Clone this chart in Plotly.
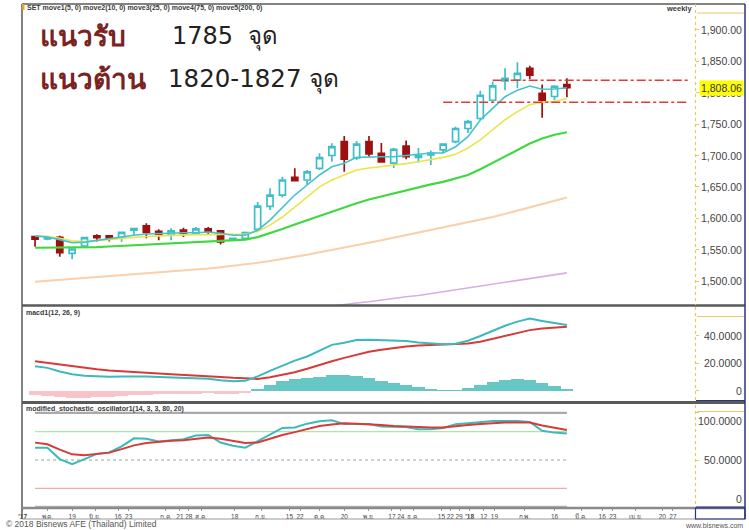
import plotly.graph_objects as go

# ---------------- data ----------------
dates = ["2017-04-28", "2017-05-05", "2017-05-12", "2017-05-19", "2017-05-26", "2017-06-02",
         "2017-06-09", "2017-06-16", "2017-06-23", "2017-06-30", "2017-07-07", "2017-07-14",
         "2017-07-21", "2017-07-28", "2017-08-04", "2017-08-11", "2017-08-18", "2017-08-25",
         "2017-09-01", "2017-09-08", "2017-09-15", "2017-09-22", "2017-09-29", "2017-10-06",
         "2017-10-13", "2017-10-20", "2017-10-27", "2017-11-03", "2017-11-10", "2017-11-17",
         "2017-11-24", "2017-12-01", "2017-12-08", "2017-12-15", "2017-12-22", "2017-12-29",
         "2018-01-05", "2018-01-12", "2018-01-19", "2018-01-26", "2018-02-02", "2018-02-09",
         "2018-02-16", "2018-02-23"]

open_ = [1570.6, 1567, 1569.6, 1544, 1555.8, 1572, 1572, 1569, 1581, 1588, 1579, 1573, 1581, 1576,
         1583, 1580, 1566, 1568, 1582.4, 1619, 1637, 1665, 1661, 1679.6, 1700, 1722, 1696, 1722,
         1703.5, 1688, 1715, 1697, 1701, 1709, 1722, 1743, 1759, 1788, 1819, 1820, 1839, 1799,
         1794, 1813]
high = [1571.5, 1572, 1572, 1552, 1570, 1574.4, 1573, 1578, 1584, 1592, 1582.5, 1584, 1585, 1586,
        1586, 1581.5, 1569, 1579, 1626, 1648, 1666, 1679.6, 1677, 1703.5, 1719.5, 1731, 1723, 1731,
        1720, 1712, 1724, 1712, 1708, 1719.5, 1746, 1756.7, 1803, 1818, 1839, 1848.5, 1843, 1813,
        1812, 1823]
low = [1554.7, 1565, 1538.8, 1534.6, 1553, 1562.6, 1563, 1562.6, 1573, 1568, 1565, 1565, 1570, 1574,
       1574, 1558, 1565, 1566, 1580, 1613, 1633, 1659, 1653, 1677, 1690, 1674, 1693, 1698,
       1689, 1680, 1694, 1689, 1685, 1703.5, 1719.5, 1736, 1757, 1786, 1804, 1807, 1822, 1760,
       1788, 1793]
close = [1566.9, 1569, 1545.1, 1551, 1569, 1569, 1568, 1577.6, 1583.5, 1577.6, 1574.5, 1580, 1576, 1583,
         1579, 1562.5, 1568, 1577, 1619.5, 1637, 1661, 1660, 1674, 1696.5, 1714, 1694, 1718, 1702.5,
         1690, 1710, 1698, 1700, 1704, 1718, 1743, 1754, 1796, 1811, 1823, 1831, 1828, 1788,
         1810, 1808.06]

move1 = [1572, 1570, 1566, 1561, 1562, 1565, 1567, 1570, 1573, 1575, 1576, 1577, 1577, 1577, 1578,
         1576, 1573, 1573, 1581, 1597, 1617.5, 1637, 1653, 1669, 1682, 1687.6, 1697, 1698, 1698, 1698,
         1700, 1703, 1704, 1704, 1714, 1730, 1756.6, 1775, 1793.7, 1804, 1810.8, 1805.5, 1806, 1808]
move2 = [1572, 1571, 1568, 1564, 1563, 1564, 1566, 1568, 1570, 1571, 1572, 1573, 1573, 1574, 1574,
         1574, 1574, 1575, 1579, 1589, 1602, 1618, 1634, 1650, 1661, 1669, 1677, 1680, 1682, 1685,
         1687, 1690, 1693, 1697, 1702, 1712, 1725, 1741, 1757, 1770, 1781, 1785, 1786, 1791]
move3 = [1553, 1553, 1553, 1553, 1554, 1554, 1555, 1556, 1557, 1558, 1559, 1560, 1561, 1562, 1563,
         1564, 1565, 1566, 1570, 1576, 1583, 1590, 1597, 1604, 1611, 1618, 1624, 1630, 1635, 1640,
         1645, 1649, 1654, 1658, 1663, 1669, 1678, 1688, 1699, 1709, 1719, 1727, 1733, 1737]
move4 = [1499, 1500.5, 1502, 1503.5, 1505, 1506.5, 1508, 1509, 1510, 1511.5, 1513, 1514.5, 1516, 1518,
         1520, 1522, 1524, 1526, 1529, 1532, 1535, 1538.5, 1542, 1546, 1549.5, 1553, 1557, 1561,
         1565, 1569, 1573, 1577, 1581, 1585, 1589, 1593, 1597.5, 1602, 1607, 1612, 1617, 1622,
         1627.5, 1633]
move5 = [None] * 20 + [1450, 1452, 1455, 1457, 1460, 1463, 1465, 1467, 1470, 1472, 1475, 1477, 1480,
                       1482, 1485, 1488, 1491, 1494, 1497, 1500, 1503, 1506, 1509, 1513]

macd = [17.9, 16.7, 14, 12, 11, 10.4, 10.2, 10.3, 10.5, 10.4, 10, 9.8, 9.6, 9.3, 8.8, 7.6, 7.0, 7.2,
        10.5, 14.5, 18.5, 22, 25, 29, 33.5, 35, 37, 37.3, 37, 36.8, 36.3, 35.3, 34.4, 34, 34.3,
        36.5, 40, 44, 47.5, 50.5, 52.7, 51, 49.5, 48]
signal = [21.5, 20.3, 19, 17.8, 16.6, 15.6, 14.8, 14.1, 13.4, 13, 12.5, 12, 11.6, 11.2, 10.7, 10.1,
          9.4, 8.8, 8.6, 9.8, 11.5, 13.5, 16, 19, 21.5, 24, 26.5, 28.5, 30, 31.3, 32.3, 33, 33.5,
          33.8, 34, 34.5, 35.8, 37.8, 40, 42.3, 44.3, 45.5, 46.3, 46.8]
hist = [-3, -3.8, -4.6, -5, -5, -4.8, -4.3, -3.8, -3.3, -3, -2.7, -2.5, -2.3, -2.1, -2, -2.2, -2.4,
        -1.8, 1.5, 4.5, 7, 8.5, 9.3, 10.2, 11.5, 11.2, 10.5, 9, 7, 5.5, 4, 2.5, 1.2, 0.3, 0.3, 2.0,
        4.5, 6.5, 7.6, 8.2, 8.0, 5.5, 3.2, 1.2]

stoch_k = [63, 63, 51, 45.5, 51, 56.5, 58, 64.5, 73, 72.5, 69.5, 71, 72, 76, 76.5, 68.5, 65, 63, 70,
           77, 84, 84.5, 88.5, 91, 92, 88, 88, 88, 85.5, 85.3, 85, 82.5, 82.5, 84, 87.8, 88.9, 90,
           91.3, 91.3, 91.3, 90.3, 81, 79, 78]
stoch_d = [68.4, 66.6, 61, 56, 55, 56, 57.8, 61.5, 65.5, 68, 69.4, 70.5, 71, 72.5, 73.7, 72.5, 70, 68,
           68.5, 72.5, 76.5, 79.5, 83, 86, 87.5, 88.9, 88.5, 88, 87, 86, 85.3, 84.5, 84.3, 84.5, 86,
           87, 88, 89, 89.6, 89.6, 89.6, 86.5, 84, 81.8]
stoch_levels = [100, 80, 50, 20, 0]

support_level = 1785
resist_level = 1820
support_start = "2017-12-15"
resist_start = "2018-01-12"
level_end = "2018-05-03"

price_ticks = [1500, 1550, 1600, 1650, 1700, 1750, 1800, 1850, 1900]
macd_ticks = [0, 20, 40]
stoch_ticks = [0, 50, 100]

date_tickvals = ["2017-04-21", "2017-05-05", "2017-05-19", "2017-06-01", "2017-06-14", "2017-06-20",
                 "2017-07-11", "2017-07-19", "2017-07-24", "2017-07-31", "2017-08-19", "2017-09-03",
                 "2017-09-19", "2017-09-25", "2017-10-06", "2017-10-20", "2017-11-03", "2017-11-16",
                 "2017-11-21", "2017-11-28", "2017-12-14", "2017-12-19", "2017-12-24", "2017-12-30",
                 "2018-01-07", "2018-01-13", "2018-01-30", "2018-02-16", "2018-03-03", "2018-03-15",
                 "2018-03-21", "2018-04-03", "2018-04-18", "2018-04-24"]
date_ticktext = ["<b>'17</b>", "พ.ค.", "19", "มิ.ย.", "16", "23", "ก.ค.", "21", "28", "ส.ค.", "18",
                 "ก.ย.", "15", "22", "ต.ค.", "20", "พ.ย.", "17", "24", "ธ.ค.", "15", "22", "29",
                 "<b>'18</b>", "12", "19", "ก.พ.", "16", "มี.ค.", "16", "23", "เม.ย.", "20", "27"]

x_range = ["2017-04-20 15:00", "2018-05-06 12:00"]

# ---------------- geometry helpers ----------------
W, H = 749, 530
ML, MR, MT, MB = 22, 54, 4, 22
PW = W - ML - MR
PH = H - MT - MB


def px(x):
    return (x - ML) / PW


def py(y):
    return (H - MB - y) / PH


CYAN = "#3ebfc8"
DRED = "#9e1010"
GOLD = "#e8c860"
NAVY = "#2a3580"
BORDER = "#5a5a5a"
LFONT = "Liberation Sans, Arial, sans-serif"

fig = go.Figure()

# moving averages
for vals, col, w in [(move5, "#d7aee2", 1.6), (move4, "#fbcfa8", 2.0), (move3, "#3fd83f", 2.2),
                     (move2, "#ece44a", 1.6), (move1, "#45c3cc", 1.6)]:
    fig.add_trace(go.Scatter(x=dates, y=vals, mode="lines", line=dict(color=col, width=w),
                             xaxis="x", yaxis="y", showlegend=False, hoverinfo="skip"))

# support / resistance
for lvl, start in [(support_level, support_start), (resist_level, resist_start)]:
    fig.add_trace(go.Scatter(x=[start, level_end], y=[lvl, lvl], mode="lines",
                             line=dict(color="#e03a3a", width=1.5, dash="dashdot"),
                             xaxis="x", yaxis="y", showlegend=False, hoverinfo="skip"))

fig.add_trace(go.Candlestick(
    x=dates, open=open_, high=high, low=low, close=close, xaxis="x", yaxis="y",
    increasing=dict(line=dict(color=CYAN, width=1.7), fillcolor="white"),
    decreasing=dict(line=dict(color=DRED, width=1.7), fillcolor=DRED),
    whiskerwidth=0, showlegend=False, hoverinfo="skip"))

# MACD
fig.add_trace(go.Bar(x=dates, y=hist, width=[7 * 86400000] * len(dates),
                     marker=dict(color=["#66c7c5" if v >= 0 else "#f8c4ca" for v in hist], line=dict(width=0)),
                     xaxis="x2", yaxis="y2", showlegend=False, hoverinfo="skip"))
fig.add_trace(go.Scatter(x=dates, y=signal, mode="lines", line=dict(color="#d83a3a", width=2),
                         xaxis="x2", yaxis="y2", showlegend=False, hoverinfo="skip"))
fig.add_trace(go.Scatter(x=dates, y=macd, mode="lines", line=dict(color="#3cb9b9", width=2),
                         xaxis="x2", yaxis="y2", showlegend=False, hoverinfo="skip"))

# Stochastic levels
lvl_style = {100: dict(color="#a9a9a9", width=2.2), 80: dict(color="#a6eaa6", width=1.2),
             50: dict(color="#a0a0a0", width=1.2, dash="dot"), 20: dict(color="#f5a9a9", width=1.2),
             0: dict(color="#b5b5b5", width=3)}
for lv in stoch_levels:
    fig.add_trace(go.Scatter(x=[dates[0], dates[-1]], y=[lv, lv], mode="lines", line=lvl_style[lv],
                             xaxis="x3", yaxis="y3", showlegend=False, hoverinfo="skip"))
fig.add_trace(go.Scatter(x=dates, y=stoch_k, mode="lines", line=dict(color="#3cb9b9", width=2),
                         xaxis="x3", yaxis="y3", showlegend=False, hoverinfo="skip"))
fig.add_trace(go.Scatter(x=dates, y=stoch_d, mode="lines", line=dict(color="#d83a3a", width=2),
                         xaxis="x3", yaxis="y3", showlegend=False, hoverinfo="skip"))

common_x = dict(range=x_range, showgrid=False, zeroline=False, showline=False, type="date")
common_y = dict(side="right", showgrid=False, zeroline=False, showline=False, showticklabels=False,
                ticks="outside", ticklen=3, tickcolor=GOLD, tickwidth=1)

fig.update_layout(
    width=W, height=H, margin=dict(l=ML, r=MR, t=MT, b=MB), paper_bgcolor="white", plot_bgcolor="white",
    bargap=0, showlegend=False,
    xaxis=dict(**common_x, domain=[0, 1], anchor="y", showticklabels=False, rangeslider=dict(visible=False)),
    xaxis2=dict(**common_x, domain=[0, 1], anchor="y2", matches="x", showticklabels=False),
    xaxis3=dict(**common_x, domain=[0, 1], anchor="y3", matches="x", tickvals=date_tickvals,
                ticktext=date_ticktext, tickangle=0, ticks="outside", ticklen=2, tickcolor="#999",
                tickfont=dict(family=LFONT, size=6.5, color="#444")),
    yaxis=dict(**common_y, domain=[py(305), py(4)], range=[1461.8, 1941.4], anchor="x", tickvals=price_ticks),
    yaxis2=dict(**common_y, domain=[py(400), py(307)], range=[-6.8, 61.2], anchor="x2", tickvals=macd_ticks),
    yaxis3=dict(**common_y, domain=[py(508), py(406)], range=[-0.85, 107.2], anchor="x3", tickvals=stoch_ticks),
)

shapes = []


def hline(y, x0, x1, color, width, dash="solid"):
    shapes.append(dict(type="line", xref="paper", yref="paper", x0=px(x0), x1=px(x1), y0=py(y), y1=py(y),
                       line=dict(color=color, width=width, dash=dash)))


def vline(x, y0, y1, color, width, dash="solid"):
    shapes.append(dict(type="line", xref="paper", yref="paper", x0=px(x), x1=px(x), y0=py(y0), y1=py(y1),
                       line=dict(color=color, width=width, dash=dash)))


# outer frame / separators
hline(4, 22, 745, BORDER, 1.5)
vline(22, 4, 519, BORDER, 1.5)
hline(305.5, 22, 745, BORDER, 2.5)
hline(402.5, 22, 745, BORDER, 3)
hline(508, 22, 745, "#8a8a8a", 2.5)
hline(519, 22, 745, "#9a9a9a", 1)
vline(745, 4, 519, NAVY, 1.5)
# right axis boxes
for top, bot in [(4, 305), (307, 401), (405, 507)]:
    vline(695.5, top, bot, GOLD, 1.2, "dot")
for y in [13, 316.5, 411.5]:
    hline(y, 697, 744, GOLD, 1.2)
for y in [400.5, 507]:
    hline(y, 696, 745, NAVY, 1.2)
shapes.append(dict(type="rect", xref="paper", yref="paper", x0=px(695.5), x1=px(745), y0=py(508), y1=py(519),
                   line=dict(color=NAVY, width=1.2)))
shapes.append(dict(type="rect", xref="paper", yref="paper", x0=px(22), x1=px(24.5), y0=py(4), y1=py(10),
                   line=dict(width=0), fillcolor="#f0a030"))
fig.update_layout(shapes=shapes)

ann = []
for v in price_ticks:
    ann.append(dict(x=px(744), xref="paper", y=v, yref="y", text=f"{v:,.2f}", showarrow=False, xanchor="right",
                    yanchor="middle", font=dict(family=LFONT, size=10.5, color="#444")))
ann.append(dict(x=px(744), xref="paper", y=close[-1], yref="y", text=f"{close[-1]:,.2f}", showarrow=False,
                xanchor="right", yanchor="middle", bgcolor="#ffff00", borderpad=1,
                font=dict(family=LFONT, size=10.5, color="#333")))
for v in macd_ticks:
    ann.append(dict(x=px(744), xref="paper", y=v, yref="y2", text=(f"{v:.4f}" if v else "0"), showarrow=False,
                    xanchor="right", yanchor="middle", font=dict(family=LFONT, size=10.5, color="#444")))
for v in stoch_ticks:
    ya = "top" if v == max(stoch_ticks) else ("bottom" if v == min(stoch_ticks) else "middle")
    ann.append(dict(x=px(744), xref="paper", y=v, yref="y3", text=(f"{v:.4f}" if v else "0"), showarrow=False,
                    xanchor="right", yanchor=ya, font=dict(family=LFONT, size=10.5, color="#444")))


def text(x, y, s, size, color="#333", xanchor="left", family=LFONT):
    ann.append(dict(x=px(x), xref="paper", y=py(y), yref="paper", text=s, showarrow=False, xanchor=xanchor,
                    yanchor="middle", font=dict(family=family, size=size, color=color)))


text(25, 8.5, "<b>SET move1(5, 0) move2(10, 0) move3(25, 0) move4(75, 0) move5(200, 0)</b>", 7, "#3a3a3a")
text(694, 8.5, "<b>weekly</b>", 7.5, "#3a3a3a", xanchor="right")
text(24, 313, "<b>macd1(12, 26, 9)</b>", 7, "#3a3a3a")
text(24, 409, "<b>modified_stochastic_oscillator1(14, 3, 3, 80, 20)</b>", 7, "#3a3a3a")
text(4, 523.5, "© 2018 Bisnews AFE (Thailand) Limited", 8.5, "#555")
text(745, 525, "www.bisnews.com", 7, "#555", xanchor="right")

THAI = "DejaVu Sans, Noto Sans, sans-serif"
text(38, 36, "<b>แนวรับ</b>", 28, "#7a2323", family=THAI)
text(170, 36, "1785\u00a0\u00a0จุด", 24, "#222", family=THAI)
text(38, 79, "<b>แนวต้าน</b>", 28, "#7a2323", family=THAI)
text(166, 79, "1820-1827 จุด", 24.5, "#222", family=THAI)

fig.update_layout(annotations=ann)
fig.write_html("out.html", config={"displayModeBar": False},
               post_script="document.body.style.margin='0';document.body.style.padding='0';")
